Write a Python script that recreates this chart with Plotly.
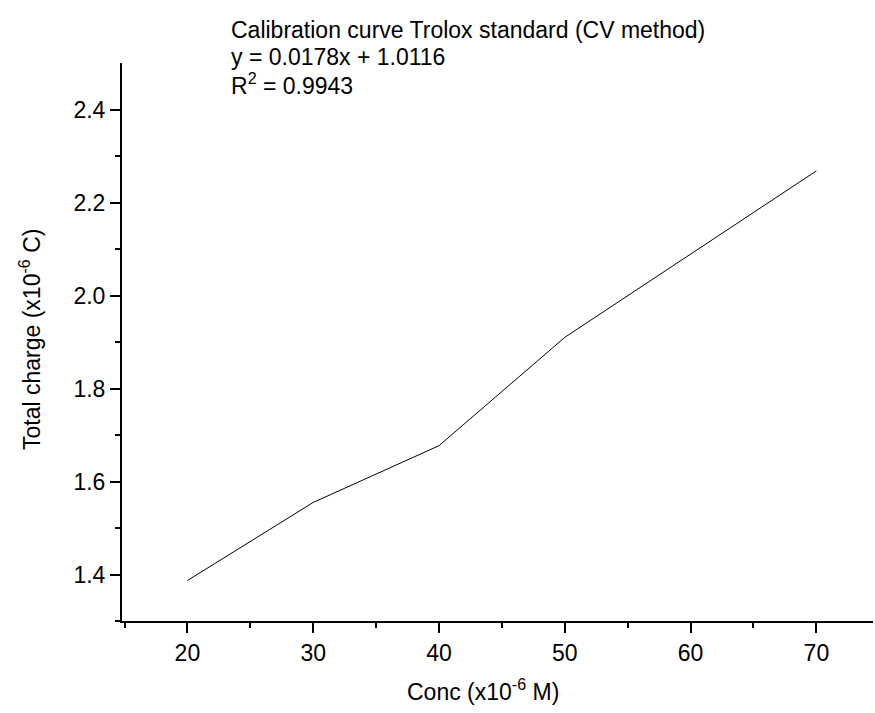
import plotly.graph_objects as go

conc = [20, 30, 40, 50, 70]
charge = [1.387, 1.555, 1.677, 1.910, 2.268]

title_lines = ["Calibration curve Trolox standard (CV method)",
               "y = 0.0178x + 1.0116",
               "R<sup>2</sup> = 0.9943"]
x_title = "Conc (x10<sup>-6</sup> M)"
y_title = "Total charge (x10<sup>-6</sup> C)"

FONT = "Liberation Sans, Arial, sans-serif"
FS = 23

L, R, T, B = 122, 873, 63, 621
W, H = 875, 713


def px(X):
    return (X - L) / (R - L)


def py(Y):
    return (B - Y) / (B - T)


fig = go.Figure()
fig.add_trace(go.Scatter(x=conc, y=charge, mode="lines",
                         line=dict(color="black", width=1), showlegend=False,
                         hoverinfo="skip"))

axis_common = dict(
    showline=True, linecolor="black", linewidth=2, mirror=False,
    showgrid=False, zeroline=False, automargin=False,
    ticks="outside", ticklen=10, tickwidth=2, tickcolor="black",
    tickfont=dict(family=FONT, size=FS, color="black"),
)

fig.update_xaxes(range=[14.8, 74.5], tickmode="array", tickvals=[20, 30, 40, 50, 60, 70],
                 minor=dict(ticks="outside", ticklen=5, tickwidth=2, tickcolor="black",
                            tickmode="array", tickvals=[15, 25, 35, 45, 55, 65]),
                 **axis_common)
fig.update_yaxes(range=[1.3, 2.5], tickmode="array", tickvals=[1.4, 1.6, 1.8, 2.0, 2.2, 2.4],
                 ticktext=["1.4", "1.6", "1.8", "2.0", "2.2", "2.4"],
                 minor=dict(ticks="outside", ticklen=5, tickwidth=2, tickcolor="black",
                            tickmode="array", tickvals=[1.3, 1.5, 1.7, 1.9, 2.1, 2.3]),
                 **axis_common)

font = dict(family=FONT, size=FS, color="black")
for line, yc in zip(title_lines, [30, 57, 84]):
    fig.add_annotation(text=line, xref="paper", yref="paper",
                       x=px(229), y=py(yc), xanchor="left", yanchor="middle",
                       align="left", showarrow=False, font=font)

fig.add_annotation(text=x_title, xref="paper", yref="paper", x=px(483), y=py(690),
                   xanchor="center", yanchor="middle", showarrow=False, font=font)
fig.add_annotation(text=y_title, xref="paper", yref="paper", x=px(30), y=py(340),
                   xanchor="center", yanchor="middle", textangle=-90,
                   showarrow=False, font=font)

fig.update_layout(width=W, height=H, plot_bgcolor="white", paper_bgcolor="white",
                  margin=dict(l=L, r=W - R, t=T, b=H - B, autoexpand=False))

fig.write_html("out.html", config={"displayModeBar": False},
               post_script="document.body.style.margin='0';document.body.style.overflow='hidden';")
